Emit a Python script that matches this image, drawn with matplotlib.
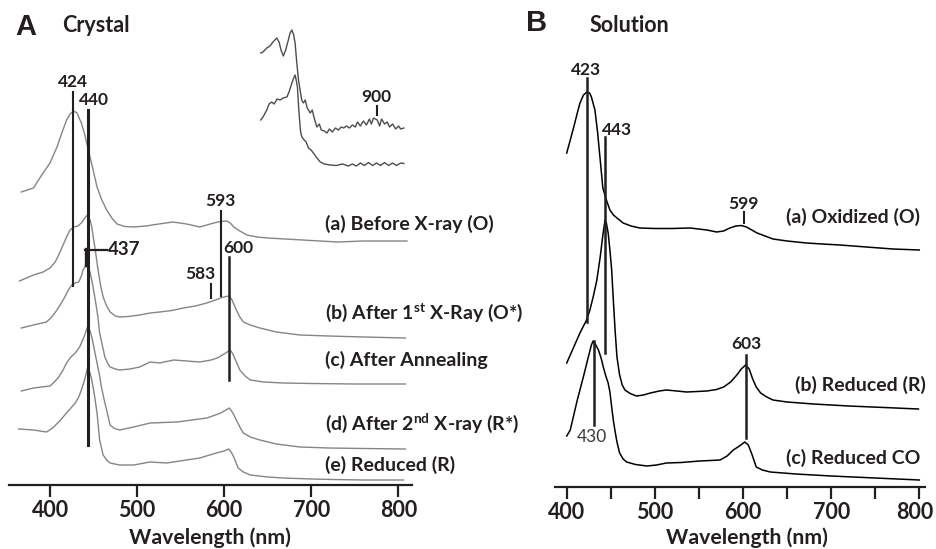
import numpy as np
import matplotlib
matplotlib.use('Agg')
import matplotlib.pyplot as plt
import matplotlib.transforms as mtransforms

plt.rcParams['font.family'] = ['Lato', 'DejaVu Sans']
plt.rcParams['mathtext.fontset'] = 'custom'
plt.rcParams['mathtext.rm'] = 'Lato'
plt.rcParams['mathtext.bf'] = 'Lato:bold'

# ---- Panel A : crystal spectra (wavelength nm, absorbance a.u. with offsets) ----
wl_a = [367, 381, 392, 400, 408, 414, 419, 423, 427, 431, 436, 440, 444, 449, 454, 459, 465, 471,
        477, 486, 496, 510, 525, 541, 557, 572, 580, 588, 596, 603, 607, 611, 618, 626, 638, 650,
        670, 690, 710, 730, 760, 790, 810]
abs_a = [2.93, 2.97, 3.12, 3.22, 3.38, 3.53, 3.65, 3.71, 3.74, 3.72, 3.62, 3.50, 3.35, 3.17, 2.98,
         2.86, 2.75, 2.67, 2.61, 2.585, 2.58, 2.59, 2.61, 2.63, 2.61, 2.58, 2.60, 2.62, 2.635, 2.64,
         2.62, 2.58, 2.54, 2.50, 2.48, 2.47, 2.46, 2.45, 2.44, 2.43, 2.44, 2.44, 2.44]

wl_b = [365, 381, 392, 400, 406, 411, 415, 419, 423, 427, 432, 436, 440, 443, 446, 448, 450, 452,
        455, 458, 461, 465, 469, 475, 480, 490, 503, 515, 526, 540, 553, 567, 580, 590, 596, 602,
        606, 609, 614, 618, 622, 630, 641, 660, 687, 720, 760, 808]
abs_b = [2.04, 2.10, 2.13, 2.17, 2.23, 2.32, 2.40, 2.48, 2.55, 2.58, 2.59, 2.62, 2.67, 2.70, 2.65,
         2.58, 2.46, 2.35, 2.16, 2.00, 1.88, 1.79, 1.73, 1.69, 1.68, 1.685, 1.70, 1.72, 1.73, 1.745,
         1.77, 1.79, 1.82, 1.85, 1.87, 1.885, 1.89, 1.85, 1.75, 1.68, 1.63, 1.60, 1.57, 1.53, 1.50,
         1.49, 1.48, 1.47]

wl_c = [367, 381, 396, 402, 408, 413, 417, 421, 425, 429, 433, 436, 438, 442, 446, 449, 452, 455,
        457, 460, 463, 466, 469, 475, 480, 492, 503, 515, 526, 542, 557, 572, 585, 592, 600, 607,
        610, 614, 618, 624, 630, 645, 668, 700, 750, 808]
abs_c = [1.57, 1.60, 1.63, 1.68, 1.75, 1.82, 1.88, 1.95, 2.00, 2.02, 2.03, 2.09, 2.15, 2.21, 2.13,
         2.00, 1.85, 1.68, 1.52, 1.40, 1.28, 1.22, 1.18, 1.16, 1.15, 1.16, 1.18, 1.23, 1.22, 1.25,
         1.24, 1.23, 1.25, 1.27, 1.31, 1.35, 1.31, 1.23, 1.15, 1.09, 1.05, 1.03, 1.02, 1.015, 1.01,
         1.01]

wl_d = [367, 381, 400, 405, 410, 415, 419, 424, 429, 434, 439, 443, 446, 448, 451, 454, 457, 459,
        462, 465, 469, 474, 480, 496, 515, 530, 546, 563, 580, 590, 596, 602, 606, 610, 614, 618,
        622, 630, 641, 660, 687, 720, 760, 808]
abs_d = [0.94, 0.97, 0.99, 1.03, 1.08, 1.15, 1.22, 1.28, 1.32, 1.38, 1.48, 1.58, 1.54, 1.48, 1.35,
         1.22, 1.09, 0.98, 0.86, 0.75, 0.60, 0.565, 0.55, 0.58, 0.62, 0.625, 0.63, 0.65, 0.67, 0.70,
         0.72, 0.75, 0.77, 0.72, 0.65, 0.58, 0.52, 0.48, 0.45, 0.41, 0.38, 0.37, 0.365, 0.36]

wl_e = [364, 381, 396, 403, 410, 415, 419, 424, 429, 433, 436, 440, 443, 446, 448, 451, 454, 457,
        461, 465, 469, 480, 496, 515, 534, 553, 572, 591, 600, 605, 608, 611, 616, 622, 630, 650,
        668, 700, 725, 760, 806]
abs_e = [0.56, 0.55, 0.53, 0.57, 0.63, 0.68, 0.72, 0.77, 0.82, 0.88, 0.95, 1.06, 1.17, 1.12, 1.05,
         0.90, 0.72, 0.45, 0.30, 0.25, 0.22, 0.20, 0.20, 0.23, 0.22, 0.245, 0.27, 0.32, 0.34, 0.36,
         0.33, 0.28, 0.17, 0.13, 0.10, 0.08, 0.07, 0.06, 0.055, 0.05, 0.05]

labels_A = ['(a) Before X-ray (O)', '(b) After 1$^{\\mathbf{st}}$ X-Ray (O*)', '(c) After Annealing',
            '(d) After 2$^{\\mathbf{nd}}$ X-ray (R*)', '(e) Reduced (R)']
label_y_A = [2.61, 1.72, 1.25, 0.62, 0.20]

# inset (near-IR region, wide wavelength range)
wl_in_top = [250, 263, 284, 302, 319, 340, 353, 364, 377, 390, 405, 415, 425, 435, 443, 452, 462,
             471, 480, 490, 500, 511, 528, 539, 550, 565, 579, 590, 607, 622, 635, 652, 669, 686,
             702, 715, 731, 748, 764, 781, 793, 809, 826, 843, 860, 871, 883, 904, 917, 928, 945,
             960, 973, 990, 1007, 1024, 1035, 1053]
abs_in_top = [1.17, 1.18, 1.22, 1.24, 1.28, 1.32, 1.28, 1.20, 1.14, 1.20, 1.30, 1.37, 1.40, 1.35,
              1.27, 1.08, 0.90, 0.80, 0.70, 0.67, 0.70, 0.62, 0.57, 0.60, 0.52, 0.43, 0.46, 0.40,
              0.39, 0.37, 0.41, 0.38, 0.42, 0.40, 0.43, 0.42, 0.44, 0.42, 0.45, 0.43, 0.48, 0.44,
              0.49, 0.45, 0.51, 0.46, 0.52, 0.50, 0.44, 0.51, 0.46, 0.48, 0.43, 0.46, 0.41, 0.44,
              0.41, 0.42]
wl_in_bot = [250, 263, 284, 297, 312, 325, 342, 359, 376, 397, 409, 425, 435, 443, 449, 456, 462,
             468, 474, 481, 494, 505, 518, 533, 545, 566, 584, 607, 640, 674, 708, 742, 764, 787,
             809, 832, 855, 877, 900, 922, 945, 967, 990, 1012, 1035, 1053]
abs_in_bot = [0.50, 0.53, 0.60, 0.66, 0.68, 0.66, 0.71, 0.70, 0.72, 0.73, 0.78, 0.87, 0.92, 0.95,
              0.90, 0.83, 0.65, 0.50, 0.38, 0.33, 0.30, 0.28, 0.22, 0.20, 0.17, 0.12, 0.08, 0.06,
              0.05, 0.045, 0.06, 0.04, 0.06, 0.04, 0.07, 0.045, 0.075, 0.045, 0.07, 0.045, 0.075,
              0.045, 0.07, 0.045, 0.07, 0.065]

# ---- Panel B : solution spectra ----
wl_ox = [400, 404, 408, 412, 415, 419, 423, 426, 428, 432, 435, 438, 441, 445, 449, 453, 457, 464,
         473, 483, 500, 520, 540, 559, 570, 578, 585, 592, 598, 604, 610, 616, 625, 634, 650, 672,
         690, 710, 740, 770, 800]
abs_ox = [3.34, 3.47, 3.60, 3.74, 3.84, 3.92, 3.95, 3.94, 3.90, 3.77, 3.55, 3.27, 2.99, 2.87, 2.77,
          2.72, 2.69, 2.64, 2.61, 2.59, 2.585, 2.585, 2.59, 2.57, 2.55, 2.56, 2.59, 2.61, 2.615,
          2.60, 2.57, 2.54, 2.51, 2.48, 2.46, 2.44, 2.43, 2.42, 2.40, 2.38, 2.37]

wl_red = [400, 405, 410, 415, 419, 422, 426, 430, 434, 438, 441, 443.5, 445, 447, 449, 451, 453,
          455, 457, 460, 463, 466, 472, 479, 487, 495, 505, 513, 525, 536, 548, 559, 570, 578, 586,
          593, 598, 603, 607, 611, 615, 620, 627, 634, 650, 680, 720, 760, 799]
abs_red = [1.24, 1.34, 1.44, 1.54, 1.61, 1.66, 1.76, 1.90, 2.06, 2.30, 2.52, 2.67, 2.64, 2.54,
           2.37, 2.17, 1.85, 1.55, 1.30, 1.12, 1.02, 0.97, 0.935, 0.91, 0.92, 0.94, 0.96, 0.97,
           0.96, 0.95, 0.955, 0.96, 0.975, 1.00, 1.05, 1.12, 1.18, 1.22, 1.18, 1.08, 1.00, 0.94,
           0.90, 0.87, 0.85, 0.83, 0.81, 0.795, 0.78]

wl_co = [400, 404, 408, 412, 415, 420, 424.5, 428, 430, 433, 436, 439, 441.5, 444, 447, 449, 451,
         453, 455, 457, 460, 464, 468, 478, 491, 502, 513, 530, 551, 563, 574, 582, 589, 596, 602,
         606, 610, 615, 622, 631, 660, 700, 750, 800]
abs_co = [0.51, 0.57, 0.72, 0.87, 0.97, 1.14, 1.30, 1.42, 1.46, 1.42, 1.37, 1.29, 1.20, 1.12,
          1.04, 0.95, 0.80, 0.66, 0.55, 0.45, 0.34, 0.28, 0.25, 0.225, 0.21, 0.22, 0.24, 0.245,
          0.26, 0.265, 0.27, 0.31, 0.37, 0.41, 0.45, 0.42, 0.33, 0.20, 0.17, 0.15, 0.13, 0.11,
          0.09, 0.07]

labels_B = ['(a) Oxidized (O)', '(b) Reduced (R)', '(c) Reduced CO']
label_y_B = [2.70, 1.02, 0.29]

ticks_A = [400, 500, 600, 700, 800]
ticks_B = [400, 450, 500, 550, 600, 650, 700, 750, 800]
ticklabels_B = ['400', '', '500', '', '600', '', '700', '', '800']

W, H = 936, 549
fig = plt.figure(figsize=(W / 100, H / 100), dpi=100)
TXT = '#231f20'
LAB = 14
NUM = 12.5


def px_axes(x0, y0, x1, y1):
    # place axes using pixel box of the reference picture
    return fig.add_axes([x0 / W, 1 - y1 / H, (x1 - x0) / W, (y1 - y0) / H])


def style(ax):
    ax.patch.set_alpha(0)
    for s in ['left', 'right', 'top']:
        ax.spines[s].set_visible(False)
    ax.spines['bottom'].set_linewidth(1.6)
    ax.spines['bottom'].set_color(TXT)
    ax.set_yticks([])
    ax.tick_params(axis='x', direction='out', length=8.5, width=1.6, color=TXT,
                   labelsize=15.5, labelcolor=TXT, pad=2)
    for t in ax.get_xticklabels():
        t.set_fontweight('bold')


# ---------- panel A ----------
axA = px_axes(9, 0, 412, 485)
axA.set_xlim(352.9, 815.7)
axA.set_ylim(0, 4.85)
gray = '#858585'
for wl, ab in [(wl_a, abs_a), (wl_b, abs_b), (wl_c, abs_c), (wl_d, abs_d), (wl_e, abs_e)]:
    axA.plot(wl, ab, color=gray, lw=1.0)
axA.set_xticks(ticks_A)
axA.set_xticklabels([str(t) for t in ticks_A])
style(axA)
axA.set_xlabel('Wavelength (nm)', fontsize=15.3, fontweight='bold', color=TXT)
axA.xaxis.set_label_coords(0.499, -0.109)
axA.xaxis.label.set_va('center')

for lab, y in zip(labels_A, label_y_A):
    axA.text(715.8, y, lab, fontsize=LAB, fontweight='bold', color=TXT, ha='left', va='center')

# peak markers panel A
axA.plot([426, 426], [1.99, 3.93], color=TXT, lw=1.5)
axA.text(426.5, 4.03, '424', fontsize=NUM, fontweight='bold', color=TXT, ha='center', va='center')
axA.plot([443.3, 443.3], [0.40, 3.75], color=TXT, lw=2.2)
axA.text(451, 3.85, '440', fontsize=NUM, fontweight='bold', color=TXT, ha='center', va='center')
axA.plot([440.2, 465.1], [2.35, 2.35], color=TXT, lw=1.6)
axA.plot([441.5, 441.5], [2.20, 2.36], color=TXT, lw=2.4)
axA.text(466.6, 2.35, '437', fontsize=13.5, fontweight='bold', color=TXT, ha='left', va='center')
axA.plot([596, 596], [1.89, 2.74], color=TXT, lw=1.5)
axA.text(595.2, 2.84, '593', fontsize=NUM, fontweight='bold', color=TXT, ha='center', va='center')
axA.plot([605.9, 605.9], [1.05, 2.28], color=TXT, lw=1.8)
axA.text(616.2, 2.37, '600', fontsize=NUM, fontweight='bold', color=TXT, ha='center', va='center')
axA.plot([584.9, 584.9], [1.87, 2.01], color=TXT, lw=1.5)
axA.text(572.3, 2.11, '583', fontsize=NUM, fontweight='bold', color=TXT, ha='center', va='center')

# inset
axIn = px_axes(260.7, 25, 403.3, 170)
axIn.set_xlim(250, 1050)
axIn.set_ylim(0, 1.45)
axIn.axis('off')
axIn.plot(wl_in_top, abs_in_top, color='#4d4d4d', lw=1.0, clip_on=False)
axIn.plot(wl_in_bot, abs_in_bot, color='#4d4d4d', lw=1.0, clip_on=False)
axIn.plot([900, 900], [0.55, 0.64], color=TXT, lw=1.5)
axIn.text(900, 0.73, '900', fontsize=NUM, fontweight='bold', color=TXT, ha='center', va='center')

# ---------- panel B ----------
axB = px_axes(555, 0, 925, 487)
axB.set_xlim(386.7, 806.5)
axB.set_ylim(0, 4.87)
for wl, ab in [(wl_ox, abs_ox), (wl_red, abs_red), (wl_co, abs_co)]:
    axB.plot(wl, ab, color='black', lw=1.1)
axB.set_xticks(ticks_B)
axB.set_xticklabels(ticklabels_B)
style(axB)
# keep the last tick label inside the picture
last = axB.get_xticklabels()[-1]
last.set_transform(last.get_transform() +
                   mtransforms.ScaledTranslation(-3 / 72, 0, fig.dpi_scale_trans))
axB.set_xlabel('Wavelength (nm)', fontsize=15.3, fontweight='bold', color=TXT)
axB.xaxis.set_label_coords(0.519, -0.105)
axB.xaxis.label.set_va('center')

label_x_B = [801, 808, 801]
for lab, x, y in zip(labels_B, label_x_B, label_y_B):
    axB.text(x, y, lab, fontsize=LAB, fontweight='bold', color=TXT, ha='right', va='center')

axB.plot([422.7, 422.7], [1.65, 4.09], color=TXT, lw=1.8)
axB.text(421.6, 4.17, '423', fontsize=NUM, fontweight='bold', color=TXT, ha='center', va='center')
axB.plot([443.4, 443.4], [1.34, 3.50], color=TXT, lw=1.8)
axB.text(457.4, 3.57, '443', fontsize=NUM, fontweight='bold', color=TXT, ha='center', va='center')
axB.plot([601.1, 601.1], [2.64, 2.75], color=TXT, lw=1.5)
axB.text(600.3, 2.83, '599', fontsize=NUM, fontweight='bold', color=TXT, ha='center', va='center')
axB.plot([603.4, 603.4], [0.49, 1.32], color=TXT, lw=1.8)
axB.text(603.4, 1.43, '603', fontsize=NUM, fontweight='bold', color=TXT, ha='center', va='center')
axB.plot([431, 431], [0.62, 1.46], color=TXT, lw=1.8)
axB.text(428.4, 0.50, '430', fontsize=NUM, color='#3a3a3a', ha='center', va='center')

# panel letters and titles
fig.text(26 / W, 1 - 27 / H, 'A', fontsize=21, fontweight='bold', family='Liberation Sans',
         color=TXT, ha='center', va='center')
fig.text(61.7 / W, 1 - 25 / H, 'Crystal', fontsize=15.5, fontweight='bold', color=TXT,
         ha='left', va='center')
fig.text(537 / W, 1 - 23 / H, 'B', fontsize=21, fontweight='bold', family='Liberation Sans',
         color=TXT, ha='center', va='center')
fig.text(590 / W, 1 - 25 / H, 'Solution', fontsize=15.5, fontweight='bold', color=TXT,
         ha='left', va='center')

fig.savefig('out.png', dpi=100)
